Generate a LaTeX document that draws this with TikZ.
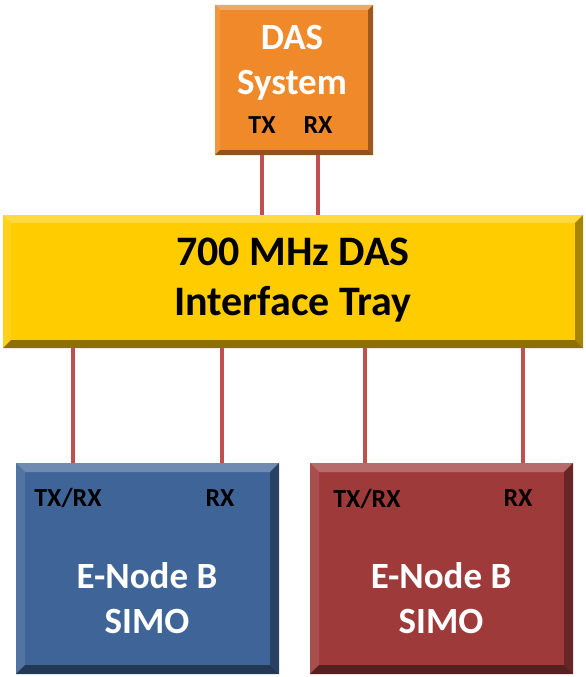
\documentclass[tikz,border=0pt]{standalone}
\usepackage{fontspec}
\setmainfont{Carlito}
\usetikzlibrary{calc}

\definecolor{dasorange}{HTML}{F0892A}
\definecolor{traygold}{HTML}{FFCC00}
\definecolor{enbblue}{HTML}{3F6598}
\definecolor{enbred}{HTML}{9E3B3A}
\definecolor{feeder}{HTML}{C0504D}

% bevelled box: node, bevel, light, dark
\newcommand{\bevelbox}[4]{%
  \fill[#3!75!white] (#1.north west) -- (#1.north east) -- ($(#1.north east)+(-#2,#2)$) -- ($(#1.north west)+(#2,#2)$) -- cycle;
  \fill[#3!90!white] (#1.north west) -- ($(#1.north west)+(#2,#2)$) -- ($(#1.south west)+(#2,-#2)$) -- (#1.south west) -- cycle;
  \fill[#3!65!black] (#1.north east) -- ($(#1.north east)+(-#2,#2)$) -- ($(#1.south east)+(-#2,-#2)$) -- (#1.south east) -- cycle;
  \fill[#4] (#1.south west) -- ($(#1.south west)+(#2,-#2)$) -- ($(#1.south east)+(-#2,-#2)$) -- (#1.south east) -- cycle;
}

\tikzset{
  unit/.style={inner sep=0pt,outer sep=0pt},
  title/.style={align=center,font=\bfseries\fontsize{37}{45}\selectfont,text=white},
  port/.style={font=\bfseries\fontsize{26}{30}\selectfont,text=black},
  feed/.style={draw=feeder,line width=3.5pt}
}

\begin{document}
\begin{tikzpicture}[x=1pt,y=-1pt,line join=round]
\useasboundingbox (0,0) rectangle (586,677);
		% DAS
		\node[unit,fill=dasorange,minimum width=158pt,minimum height=150pt] (das) at (294,80) {};
		\bevelbox{das}{5}{dasorange}{dasorange!60!black}
		\node[title] (dasname) at (292,63) {DAS\\System};
		\node[port] (dastx) at (262,125) {TX};
		\node[port] (dasrx) at (318,125) {RX};
		% Tray
		\node[unit,fill=traygold,minimum width=580pt,minimum height=133pt] (tray) at (293,281.5) {};
		\bevelbox{tray}{8}{traygold}{traygold!55!black}
		\node[align=center,font=\bfseries\fontsize{42}{50}\selectfont] (trayname) at (293,280) {700 MHz DAS\\Interface Tray};
		% E-Node B
		\node[unit,fill=enbblue,minimum width=263pt,minimum height=211pt] (enbA) at (147.5,568.5) {};
		\bevelbox{enbA}{9}{enbblue}{enbblue!55!black}
		\node[unit,fill=enbred,minimum width=263pt,minimum height=211pt] (enbB) at (441.5,568.5) {};
		\bevelbox{enbB}{9}{enbred}{enbred!55!black}
		\node[title] (enbAname) at (147,598) {E-Node B\\SIMO};
		\node[title] (enbBname) at (441,598) {E-Node B\\SIMO};
		\node[port] (atrx) at (68,498) {TX/RX};
		\node[port] (arx) at (220,498) {RX};
		\node[port] (btrx) at (367,499) {TX/RX};
		\node[port] (brx) at (518,498) {RX};
		% feeders
		\coordinate (fa) at (73,0);
		\coordinate (fb) at (222,0);
		\coordinate (fc) at (365,0);
		\coordinate (fd) at (523,0);
		\draw[feed] (dastx |- das.south) -- (dastx |- tray.north);
		\draw[feed] (dasrx |- das.south) -- (dasrx |- tray.north);
		\draw[feed] (fa |- tray.south) -- (fa |- enbA.north);
		\draw[feed] (fb |- tray.south) -- (fb |- enbA.north);
		\draw[feed] (fc |- tray.south) -- (fc |- enbB.north);
		\draw[feed] (fd |- tray.south) -- (fd |- enbB.north);
\end{tikzpicture}
\end{document}
